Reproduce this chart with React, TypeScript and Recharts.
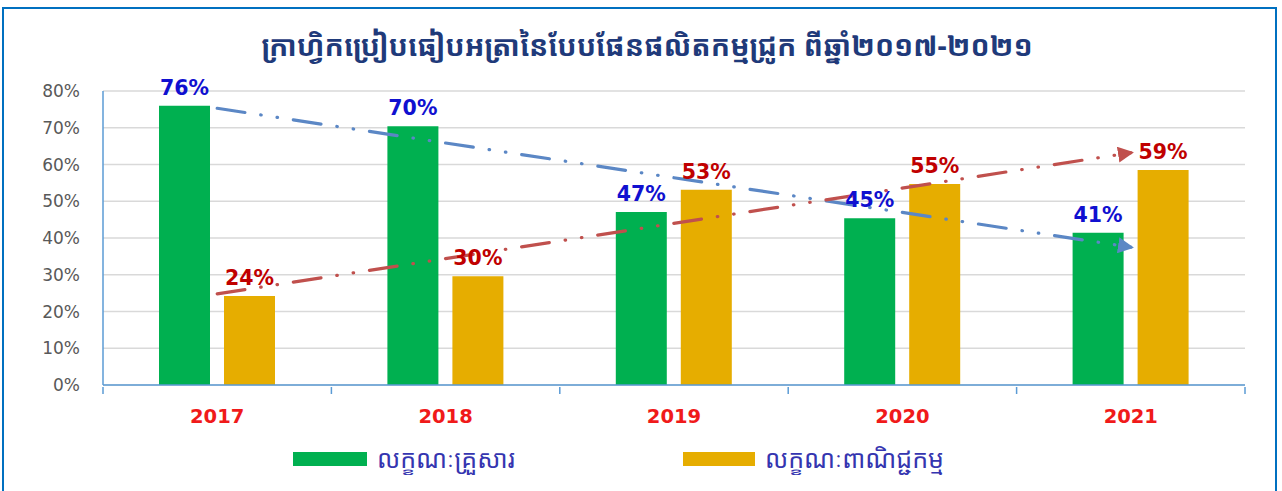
import React from 'react';
import { BarChart, Bar, XAxis, YAxis, CartesianGrid, LabelList, ReferenceLine } from 'recharts';

const categories = ['2017', '2018', '2019', '2020', '2021'];
const householdValues = [76, 70.4, 47.1, 45.4, 41.4];
const commercialValues = [24.2, 29.6, 53.1, 54.7, 58.5];
const householdLabels = ['76%', '70%', '47%', '45%', '41%'];
const commercialLabels = ['24%', '30%', '53%', '55%', '59%'];
const yTicks = [0, 10, 20, 30, 40, 50, 60, 70, 80];
const householdTrend = [75.3, 37.5];
const commercialTrend = [24.8, 63.2];

const title = 'ក្រាហ្វិកប្រៀបធៀបអត្រានៃបែបផែនផលិតកម្មជ្រូក ពីឆ្នាំ២០១៧-២០២១';
const legendHousehold = 'លក្ខណៈគ្រួសារ';
const legendCommercial = 'លក្ខណៈពាណិជ្ជកម្ម';

const data = categories.map((c, i) => ({
  year: c,
  household: householdValues[i],
  commercial: commercialValues[i],
  hl: householdLabels[i],
  cl: commercialLabels[i],
}));

const khmerFont = "'Khmer OS', 'Khmer OS System', 'Noto Sans Khmer', 'Noto Serif Khmer', 'Khmer', 'DejaVu Sans', sans-serif";
const numFont = "'DejaVu Sans', Verdana, sans-serif";

const XTick = (props: any) => {
  const { x, y, payload, index, visibleTicksCount } = props;
  const off = payload.offset || 0;
  const isLast = index === visibleTicksCount - 1;
  return (
    <g>
      <line x1={x - off} y1={y - 6} x2={x - off} y2={y + 1} stroke="#5b9bd5" strokeWidth={1.5} />
      {isLast && <line x1={x + off} y1={y - 6} x2={x + off} y2={y + 1} stroke="#5b9bd5" strokeWidth={1.5} />}
      <text x={x} y={y + 30} textAnchor="middle" fill="#f01a1a" fontWeight="bold" fontSize={19.5} fontFamily={numFont}>
        {payload.value}
      </text>
    </g>
  );
};

const makeArrowShape = (color: string, id: string) => (props: any) => {
  const { x1, y1, x2, y2 } = props;
  if ([x1, y1, x2, y2].some((v) => v == null || isNaN(v))) return <g />;
  return (
    <g>
      <defs>
        <marker id={id} viewBox="0 0 10 10" refX="8" refY="5" markerWidth="5" markerHeight="5" orient="auto" markerUnits="strokeWidth">
          <path d="M0,0 L10,5 L0,10 z" fill={color} />
        </marker>
      </defs>
      <line x1={x1} y1={y1} x2={x2} y2={y2} stroke={color} strokeWidth={3.2} strokeLinecap="round" strokeDasharray="28 16 0.5 16 0.5 16" markerEnd={`url(#${id})`} />
    </g>
  );
};

export default function App() {
  return (
    <div style={{ position: 'absolute', left: 0, top: 0, width: 1282, height: 491, background: '#fff', overflow: 'hidden' }}>
      <div style={{ position: 'absolute', left: 2, top: 7, width: 1275, height: 500, border: '2px solid #0070c0', boxSizing: 'border-box' }} />
      <div style={{ position: 'absolute', left: 6, top: 23, width: 1282, textAlign: 'center', fontFamily: khmerFont, fontSize: 28.5, fontWeight: 'bold', color: '#1f3a7a', lineHeight: '44px' }}>
        {title}
      </div>
      <div style={{ position: 'absolute', left: 0, top: 0 }}>
        <BarChart width={1282} height={491} data={data} margin={{ top: 91, right: 37, bottom: 76, left: 0 }} barSize={51} barGap={14}>
          <CartesianGrid vertical={false} stroke="#d9d9d9" strokeWidth={1.5} />
          <YAxis
            width={103}
            domain={[0, 80]}
            ticks={yTicks}
            interval={0}
            tickFormatter={(v: number) => `${v}%`}
            tickLine={false}
            tickSize={0}
            tickMargin={23}
            axisLine={{ stroke: '#5b9bd5', strokeWidth: 1.5 }}
            tick={{ fill: '#595959', fontSize: 17, fontFamily: numFont }}
          />
          <XAxis
            dataKey="year"
            height={30}
            tickLine={false}
            axisLine={{ stroke: '#5b9bd5', strokeWidth: 1.5 }}
            tick={<XTick />}
            interval={0}
          />
          <Bar dataKey="household" fill="#00b050" isAnimationActive={false}>
            <LabelList dataKey="hl" position="top" offset={11} fill="#1010d0" fontWeight="bold" fontSize={20.5} fontFamily={numFont} />
          </Bar>
          <Bar dataKey="commercial" fill="#e6ad00" isAnimationActive={false}>
            <LabelList dataKey="cl" position="top" offset={11} fill="#c00000" fontWeight="bold" fontSize={20.5} fontFamily={numFont} />
          </Bar>
          <ReferenceLine
            segment={[{ x: categories[0], y: householdTrend[0] }, { x: categories[4], y: householdTrend[1] }]}
            stroke="#5b87c5"
            ifOverflow="visible"
            shape={makeArrowShape('#5b87c5', 'arrowBlue')}
          />
          <ReferenceLine
            segment={[{ x: categories[0], y: commercialTrend[0] }, { x: categories[4], y: commercialTrend[1] }]}
            stroke="#c0504d"
            ifOverflow="visible"
            shape={makeArrowShape('#c0504d', 'arrowRed')}
          />
        </BarChart>
      </div>
      <div style={{ position: 'absolute', left: 293, top: 452, width: 74, height: 14, background: '#00b050' }} />
      <div style={{ position: 'absolute', left: 377, top: 440, fontFamily: khmerFont, fontSize: 25, color: '#3535b0', lineHeight: '36px' }}>{legendHousehold}</div>
      <div style={{ position: 'absolute', left: 683, top: 452, width: 72, height: 14, background: '#e6ad00' }} />
      <div style={{ position: 'absolute', left: 765, top: 440, fontFamily: khmerFont, fontSize: 25, color: '#3535b0', lineHeight: '36px' }}>{legendCommercial}</div>
    </div>
  );
}
